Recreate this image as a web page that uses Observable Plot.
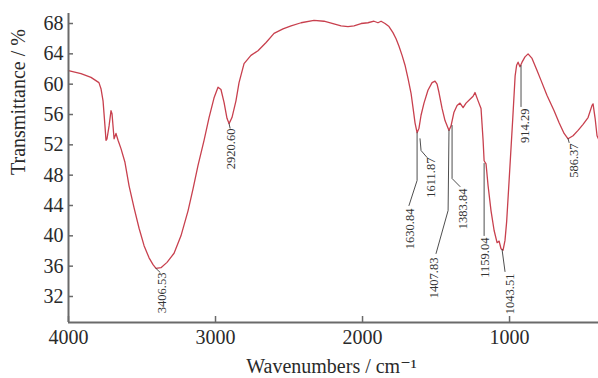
<!DOCTYPE html>
<html>
<head>
<meta charset="utf-8">
<script src="https://cdn.jsdelivr.net/npm/d3@7"></script>
<script src="https://cdn.jsdelivr.net/npm/@observablehq/plot@0.6"></script>
<style>
  html, body { margin: 0; padding: 0; background: #fff; }
  #chart { width: 598px; height: 378px; overflow: hidden; }
</style>
</head>
<body>
<div id="chart"></div>
<script>
// ---- data ----
const wavenumber = [4000,3915,3847,3793,3779,3765,3752,3745,3738,3724,
  3711,3704,3690,3677,3663,3643,3616,3588,3554,3520,
  3486,3452,3425,3405,3371,3330,3282,3235,3187,3153,
  3119,3078,3044,3010,2983,2963,2942,2922,2908,2888,
  2861,2840,2806,2759,2711,2656,2602,2541,2486,2418,
  2330,2262,2201,2146,2099,2058,2010,1963,1922,1895,
  1874,1847,1820,1793,1772,1752,1731,1711,1690,1670,
  1656,1643,1629,1616,1602,1582,1555,1527,1507,1493,
  1480,1459,1439,1418,1412,1398,1378,1357,1337,1316,
  1296,1269,1248,1235,1214,1194,1180,1173,1160,1146,
  1126,1105,1085,1071,1058,1044,1031,1020,1003,979,
  962,952,942,929,915,895,874,847,813,786,
  745,697,663,629,602,568,534,500,466,439,
  432,418,405,391];
const transmittance = [61.8,61.4,60.9,60.2,59.4,57.8,54.5,52.6,52.8,54.5,
  56.5,56.1,52.8,53.5,52.6,51.5,49.7,46.6,43.7,41.0,
  38.7,37.1,36.2,35.7,35.8,36.5,37.7,40.0,43.3,46.2,
  49.3,52.6,55.6,58.2,59.6,59.3,57.6,55.5,54.8,55.6,
  57.8,60.2,62.7,63.8,64.4,65.5,66.7,67.3,67.7,68.1,
  68.4,68.3,68.0,67.7,67.6,67.7,68.0,68.1,68.3,68.1,
  68.3,68.0,67.6,66.8,66.0,65.0,63.8,62.5,60.7,58.8,
  56.8,54.9,53.6,54.2,55.9,57.5,59.2,60.2,60.4,60.0,
  58.9,56.8,55.2,54.2,53.9,54.5,56.3,57.2,57.5,56.9,
  57.5,58.0,58.4,58.9,57.8,56.8,52.6,49.9,49.5,46.6,
  43.3,40.7,39.1,39.3,38.3,38.1,39.4,41.8,47.3,55.2,
  61.1,62.5,62.9,62.3,62.9,63.6,64.0,63.4,61.8,60.5,
  58.5,56.5,54.9,53.5,52.8,53.2,53.9,54.7,55.6,57.2,
  57.4,55.5,53.2,52.6];

const xTicks = [4000, 3000, 2000, 1000];
const yTicks = [32, 36, 40, 44, 48, 52, 56, 60, 64, 68];
const xDomain = [4000, 395];
const yDomain = [28.57, 69.32];

const peakLabels = ["3406.53","2920.60","1630.84","1611.87","1407.83","1383.84","1159.04","1043.51","914.29","586.37"];
const labelWn = [3364, 2895, 1677, 1534, 1514, 1316, 1167, 997, 895, 561];
const labelT  = [35.16, 54.15, 43.6, 50.33, 37.14, 46.24, 39.78, 35.03, 56.79, 52.18];

const leaderPeak = ["3406.53","3406.53","2920.60","2920.60",
  "1630.84","1630.84","1630.84","1611.87","1611.87","1611.87",
  "1407.83","1407.83","1407.83","1383.84","1383.84","1383.84",
  "1159.04","1159.04","1043.51","1043.51","914.29","914.29","586.37","586.37"];
const leaderWn = [3405,3378,2908,2901,
  1629,1629,1684,1609,1602,1561,
  1412,1418,1500,1391,1391,1337,
  1173,1173,1051,1031,922,922,602,595];
const leaderT = [35.7,35.2,54.8,54.2,
  53.6,47.3,44.0,52.8,51.25,50.33,
  53.9,43.34,37.67,54.55,47.56,46.5,
  49.54,40.04,38.2,35.3,62.46,57.05,52.83,52.31];

const xTitle = "Wavenumbers / cm\u207B\u00B9";
const yTitle = "Transmittance / %";

// ---- build tables ----
const spectrum = wavenumber.map((w, i) => ({w, t: transmittance[i]}));
const labels = peakLabels.map((s, i) => ({s, w: labelWn[i], t: labelT[i]}));
const leaders = leaderPeak.map((p, i) => ({p, w: leaderWn[i], t: leaderT[i]}));

const W = 598, H = 378, mL = 68, mT = 13, mR = 0, mB = 56;
const plotW = W - mL - mR, plotH = H - mT - mB;
const axisColor = "#6a6a6a";
const textColor = "#2a2a2a";

const chart = Plot.plot({
  width: W, height: H,
  marginLeft: mL, marginTop: mT, marginRight: mR, marginBottom: mB,
  x: {domain: xDomain},
  y: {domain: yDomain},
  style: {fontFamily: "'Liberation Serif', 'DejaVu Serif', serif", background: "#fff", color: textColor},
  marks: [
    Plot.line(spectrum, {x: "w", y: "t", stroke: "#c8404e", strokeWidth: 1.3, curve: "linear"}),
    Plot.line(leaders, {x: "w", y: "t", z: "p", stroke: "#3a3a3a", strokeWidth: 0.9}),
    Plot.text(labels, {x: "w", y: "t", text: "s", rotate: -90, textAnchor: "end", lineAnchor: "middle",
      fontSize: 12.5, fill: "#333"}),
    Plot.ruleX([xDomain[0]], {stroke: axisColor, strokeWidth: 2}),
    Plot.ruleY([yDomain[0]], {stroke: axisColor, strokeWidth: 2}),
    Plot.tickY(yTicks, {y: d => d, stroke: axisColor, strokeWidth: 1.5, insetRight: plotW - 5}),
    Plot.tickX(xTicks, {x: d => d, stroke: axisColor, strokeWidth: 1.5, insetTop: plotH - 6}),
    Plot.axisY({ticks: yTicks, tickSize: 0, tickPadding: 5, fontSize: 20, label: null, tickFormat: d => String(d)}),
    Plot.axisX({ticks: xTicks, tickSize: 0, tickPadding: 7, fontSize: 20, label: null, tickFormat: d => String(d)}),
    Plot.text([xTitle], {frameAnchor: "bottom", text: d => d, fontSize: 20, lineAnchor: "middle", dy: 44, dx: -2}),
    Plot.text([yTitle], {frameAnchor: "left", text: d => d, fontSize: 20, rotate: -90, lineAnchor: "middle", dx: -50, dy: 7})
  ]
});
document.getElementById("chart").appendChild(chart);
</script>
</body>
</html>
